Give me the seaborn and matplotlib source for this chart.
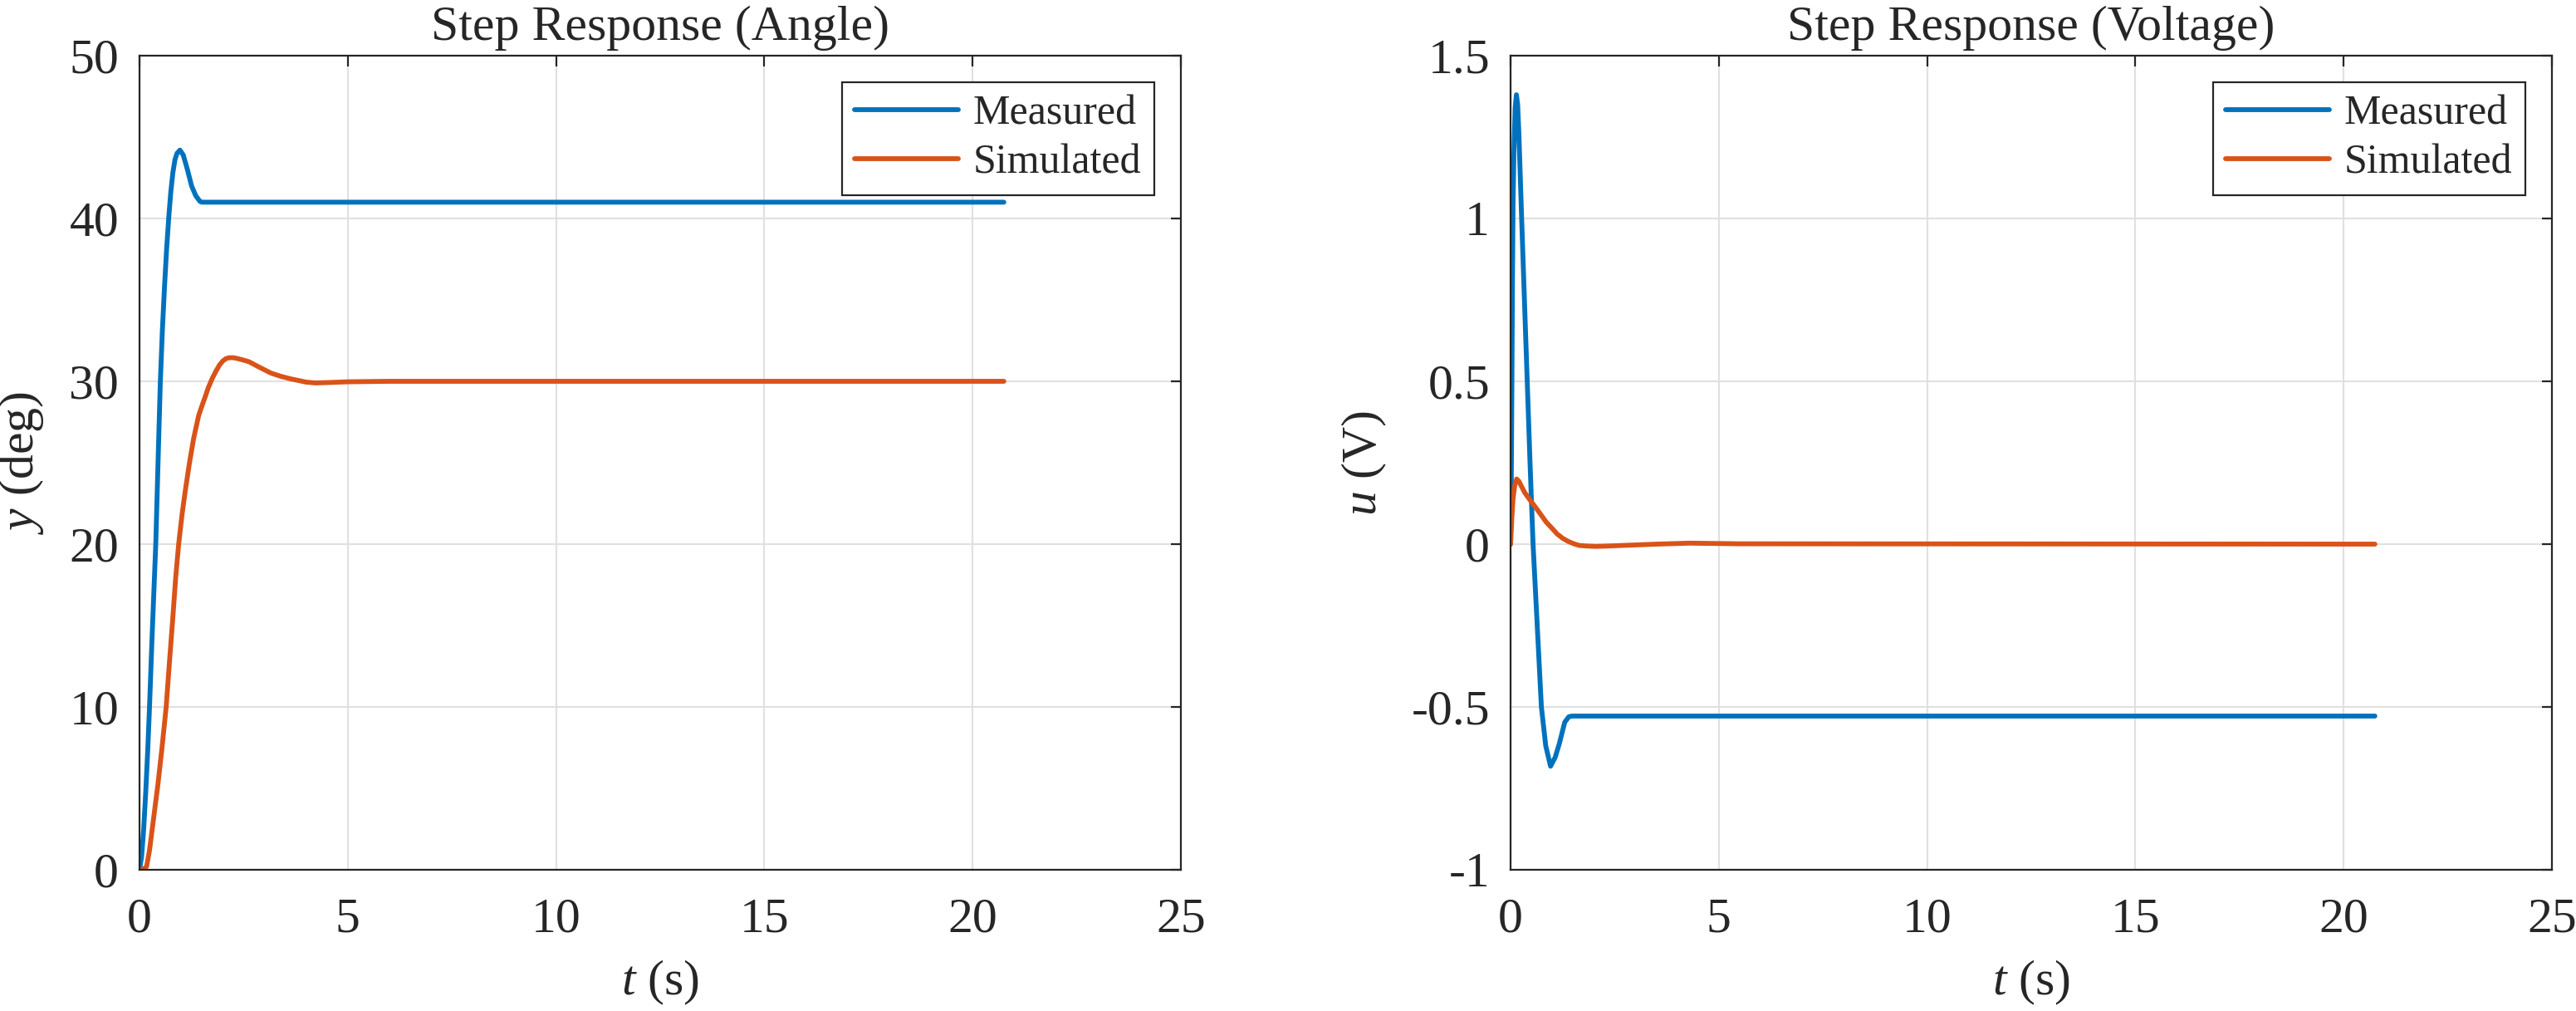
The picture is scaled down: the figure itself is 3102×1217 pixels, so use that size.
import numpy as np
import pandas as pd
import matplotlib
matplotlib.use('Agg')
import matplotlib.pyplot as plt
import seaborn as sns

# Data
# Step response (angle)
t_meas_angle = [0, 0.05, 0.1, 0.15, 0.2, 0.24, 0.3, 0.39, 0.45, 0.5, 0.55, 0.6, 0.65, 0.7, 0.75,
                0.8, 0.85, 0.9, 0.97, 1.05, 1.15, 1.25, 1.35, 1.45, 1.5, 20.75]
y_meas_angle = [0, 0.8, 2.5, 4.8, 7.5, 10, 14.2, 20, 25.5, 30, 33.2, 35.8, 38.1, 40, 41.6,
                42.8, 43.6, 44.0, 44.2, 43.9, 43.0, 42.0, 41.4, 41.05, 41.0, 41.0]

t_sim_angle = [0, 0.1, 0.17, 0.24, 0.3, 0.37, 0.44, 0.54, 0.64, 0.72, 0.8, 0.87, 0.94, 1.02,
               1.1, 1.2, 1.3, 1.42, 1.5, 1.57, 1.65, 1.75, 1.83, 1.92, 2.0, 2.08, 2.16, 2.25,
               2.35, 2.5, 2.63, 2.85, 3.16, 3.4, 3.63, 4.0, 4.22, 4.6, 5.0, 6.0, 20.75]
y_sim_angle = [0, 0.05, 0.2, 1.2, 2.4, 3.8, 5.2, 7.5, 10, 12.8, 15.5, 18, 20, 21.8,
               23.3, 25, 26.5, 27.9, 28.5, 29.0, 29.6, 30.2, 30.6, 31.0, 31.25, 31.4, 31.45, 31.45,
               31.4, 31.3, 31.2, 30.9, 30.5, 30.3, 30.15, 29.95, 29.9, 29.93, 29.97, 30.0, 30.0]

# Step response (voltage)
t_meas_volt = [0, 0.015, 0.03, 0.045, 0.06, 0.08, 0.11, 0.14, 0.17, 0.2, 0.266, 0.33, 0.4,
               0.47, 0.54, 0.64, 0.74, 0.845, 0.96, 1.07, 1.17, 1.3, 1.4, 1.47, 20.75]
u_meas_volt = [0, 0.15, 0.45, 0.8, 1.05, 1.2, 1.34, 1.38, 1.35, 1.26, 1.0, 0.76, 0.5,
               0.24, 0, -0.25, -0.5, -0.62, -0.682, -0.655, -0.613, -0.547, -0.53, -0.528, -0.528]

t_sim_volt = [0, 0.03, 0.06, 0.1, 0.146, 0.2, 0.34, 0.47, 0.6, 0.73, 0.86, 1.0, 1.12, 1.25,
              1.39, 1.52, 1.65, 1.85, 2.05, 2.3, 2.9, 3.5, 4.3, 5.5, 20.75]
u_sim_volt = [0, 0.08, 0.14, 0.18, 0.2, 0.193, 0.158, 0.135, 0.113, 0.09, 0.067, 0.048, 0.031,
              0.018, 0.008, 0.001, -0.004, -0.006, -0.007, -0.006, -0.003, 0.0, 0.003, 0.001, 0.0]

x_ticks = [0, 5, 10, 15, 20, 25]
angle_ticks = [0, 10, 20, 30, 40, 50]
volt_ticks = [-1, -0.5, 0, 0.5, 1, 1.5]
volt_ticklabels = ['-1', '-0.5', '0', '0.5', '1', '1.5']

series_names = ['Measured', 'Simulated']
colors = {'Measured': '#0072BD', 'Simulated': '#D95319'}


def make_df(t1, v1, t2, v2):
    d1 = pd.DataFrame({'t': t1, 'value': v1, 'series': series_names[0]})
    d2 = pd.DataFrame({'t': t2, 'value': v2, 'series': series_names[1]})
    return pd.concat([d1, d2], ignore_index=True)


df_angle = make_df(t_meas_angle, y_meas_angle, t_sim_angle, y_sim_angle)
df_volt = make_df(t_meas_volt, u_meas_volt, t_sim_volt, u_sim_volt)

sns.set_style('white')
plt.rcParams['font.family'] = ['Liberation Serif', 'DejaVu Serif']
plt.rcParams['mathtext.fontset'] = 'custom'
plt.rcParams['mathtext.rm'] = 'Liberation Serif'
plt.rcParams['mathtext.it'] = 'Liberation Serif:italic'
plt.rcParams['axes.unicode_minus'] = False

txt = '#262626'
fig = plt.figure(figsize=(31.02, 12.17), dpi=100)
ax1 = fig.add_axes([0.05416, 0.13969, 0.40426, 0.80526])
ax2 = fig.add_axes([0.58640, 0.13969, 0.40426, 0.80526])

setups = [
    (ax1, df_angle, 'Step Response (Angle)', '$y$ (deg)', (0, 50), angle_ticks, None),
    (ax2, df_volt, 'Step Response (Voltage)', '$u$ (V)', (-1, 1.5), volt_ticks, volt_ticklabels),
]

for ax, df, title, ylab, ylim, yticks, ytl in setups:
    sns.lineplot(data=df, x='t', y='value', hue='series', palette=colors,
                 hue_order=series_names, estimator=None, linewidth=4.2, ax=ax)
    ax.set_xlim(0, 25)
    ax.set_ylim(*ylim)
    ax.set_xticks(x_ticks)
    ax.set_yticks(yticks)
    if ytl is not None:
        ax.set_yticklabels(ytl)
    ax.grid(True, color='#e0e0e0', linewidth=1.5)
    ax.set_axisbelow(True)
    for sp in ax.spines.values():
        sp.set_visible(True)
        sp.set_color(txt)
        sp.set_linewidth(1.6)
    ax.tick_params(direction='in', top=True, right=True, length=9, width=1.6,
                   labelsize=43, colors=txt)
    ax.tick_params(axis='x', pad=24)
    ax.tick_params(axis='y', pad=18)
    ax.set_title(title, fontsize=43, color=txt, pad=14)
    ax.set_xlabel('$t$ (s)', fontsize=43, color=txt, labelpad=14)
    ax.set_ylabel(ylab, fontsize=43, color=txt, labelpad=20)
    leg = ax.legend(loc='upper right', fontsize=36, frameon=True, fancybox=False,
                    framealpha=1, edgecolor=txt, handlelength=2.5, handletextpad=0.35,
                    borderpad=0.3, labelspacing=0.25, borderaxespad=0.65)
    leg.get_frame().set_linewidth(1.6)
    for line in leg.get_lines():
        line.set_linewidth(4.2)
    for t in leg.get_texts():
        t.set_color(txt)

plt.savefig('out.png', dpi=100)
